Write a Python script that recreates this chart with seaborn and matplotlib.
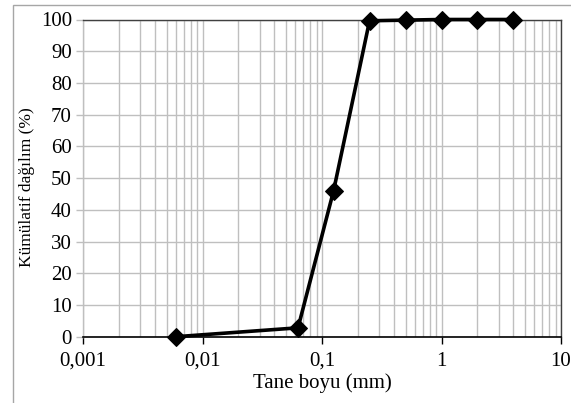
import numpy as np
import pandas as pd
import matplotlib
matplotlib.use("Agg")
import matplotlib.pyplot as plt
import matplotlib.ticker as mticker
from matplotlib.patches import Rectangle
import seaborn as sns

# Grain size distribution
tane_boyu = [0.006, 0.063, 0.125, 0.25, 0.5, 1, 2, 4]
kumulatif = [0, 2.8, 46, 99.6, 99.8, 100, 100, 100]
x_ticks = [0.001, 0.01, 0.1, 1, 10]
x_tick_labels = ["0,001", "0,01", "0,1", "1", "10"]
y_ticks = list(range(0, 101, 10))

df = pd.DataFrame({"d": tane_boyu, "p": kumulatif})

sns.set_theme(style="white")
plt.rcParams["font.family"] = ["Liberation Serif", "DejaVu Serif"]

W, H = 571, 403
fig = plt.figure(figsize=(W / 100, H / 100), dpi=100)
fig.patch.set_facecolor("white")

# outer chart frame
fig.patches.append(Rectangle((13 / W, -0.05), 1.2, (H - 5) / H + 0.05,
                             transform=fig.transFigure, fill=False,
                             edgecolor="#a6a6a6", linewidth=1.0))

left, right, top, bottom = 83, 561, 19.5, 336.7
ax = fig.add_axes([left / W, 1 - bottom / H, (right - left) / W, (bottom - top) / H])

sns.lineplot(data=df, x="d", y="p", ax=ax, color="black", linewidth=2.6,
             marker="D", markersize=9.5, markeredgecolor="black", zorder=5,
             clip_on=False)

ax.set_xscale("log")
ax.set_xlim(0.001, 10)
ax.set_ylim(0, 100)
ax.set_xticks(x_ticks)
ax.set_xticklabels(x_tick_labels)
ax.xaxis.set_minor_locator(mticker.LogLocator(base=10, subs=np.arange(2, 10)))
ax.xaxis.set_minor_formatter(mticker.NullFormatter())
ax.set_yticks(y_ticks)

ax.grid(True, which="major", axis="both", color="#bfbfbf", linewidth=1.0)
ax.grid(True, which="minor", axis="x", color="#bfbfbf", linewidth=1.0)
ax.set_axisbelow(True)

for s in ["top", "right"]:
    ax.spines[s].set_color("#404040")
    ax.spines[s].set_linewidth(1.0)
ax.spines["left"].set_color("#bfbfbf")
ax.spines["left"].set_linewidth(1.0)
ax.spines["bottom"].set_color("black")
ax.spines["bottom"].set_linewidth(1.2)

ax.tick_params(axis="x", which="major", direction="out", length=5, width=1,
               color="black", labelsize=15, pad=6, bottom=True)
ax.tick_params(axis="x", which="minor", length=0)
ax.tick_params(axis="y", which="major", direction="out", length=5, width=1,
               color="#bfbfbf", labelsize=15, pad=3, left=True)
for lab in ax.get_xticklabels() + ax.get_yticklabels():
    lab.set_color("black")

ax.set_xlabel("Tane boyu (mm)", fontsize=15, color="black", labelpad=2)
ax.set_ylabel("Kümülatif dağılım (%)", fontsize=12.5, color="black")
ax.yaxis.set_label_coords(-0.1, 0.47)

fig.savefig("out.png", dpi=100, facecolor="white")
